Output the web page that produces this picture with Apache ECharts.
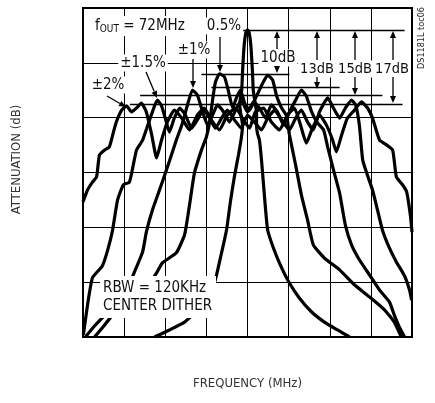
<!DOCTYPE html>
<html><head><meta charset="utf-8">
<script src="https://cdn.jsdelivr.net/npm/echarts@6/dist/echarts.min.js"></script>
<style>html,body{margin:0;padding:0;background:#fff}#c{width:435px;height:403px}</style>
</head><body><div id="c"></div>
<script>
const FONT = '"Liberation Sans Narrow","DejaVu Sans Condensed","Roboto Condensed",sans-serif';

// Frequency (MHz), attenuation (dB)
const noDither = [[69.74,-75],[70.10,-73.4],[70.47,-71.6],[70.71,-69.5],[70.95,-66.1],[71.20,-62.5],[71.34,-57.0],[71.49,-50.6],[71.59,-43.8],[71.68,-38.5],[71.78,-33.5],[71.85,-29.6],[71.88,-26.7],[71.83,-23.7],[71.81,-21.9],[71.86,-18.7],[71.88,-14.4],[71.92,-8.4],[71.96,-5.6],[72.00,-5.0],[72.04,-5.6],[72.08,-8.4],[72.12,-14.4],[72.14,-18.7],[72.19,-21.9],[72.22,-23.7],[72.22,-26.7],[72.24,-28.5],[72.29,-30.1],[72.34,-34.6],[72.39,-40.3],[72.44,-46.0],[72.49,-50.6],[72.63,-54.7],[72.80,-58.6],[73.02,-62.7],[73.26,-66.1],[73.56,-69.3],[73.87,-71.6],[74.19,-73.4],[74.48,-75]];
const dither05 = [[68.06,-75],[68.28,-72.5],[68.52,-70.2],[68.89,-67.7],[69.25,-65.4],[69.62,-62.7],[69.79,-60.4],[69.93,-58.1],[70.27,-55.8],[70.47,-51.7],[70.59,-44.9],[70.71,-37.6],[70.88,-32.4],[71.00,-29.4],[71.08,-26.0],[71.15,-21.0],[71.22,-16.9],[71.32,-15.0],[71.44,-15.7],[71.54,-19.1],[71.64,-22.8],[71.73,-20.5],[71.83,-18.7],[71.93,-21.7],[72.05,-23.3],[72.17,-21.0],[72.27,-19.1],[72.36,-17.3],[72.49,-15.3],[72.61,-16.4],[72.71,-20.1],[72.83,-22.8],[72.95,-24.6],[73.02,-28.9],[73.17,-35.8],[73.31,-42.6],[73.46,-48.3],[73.60,-54.0],[73.87,-57.0],[74.24,-59.7],[74.60,-63.1],[74.97,-65.9],[75.33,-68.8],[75.57,-71.6],[75.74,-75]];
const dither1 = [[68.28,-75],[68.52,-72.3],[68.77,-69.3],[69.01,-65.4],[69.25,-60.2],[69.45,-55.6],[69.54,-51.1],[69.69,-46.0],[69.86,-41.5],[70.03,-36.9],[70.15,-33.5],[70.27,-30.1],[70.42,-26.2],[70.54,-22.1],[70.66,-18.7],[70.78,-19.8],[70.91,-23.7],[71.03,-26.7],[71.15,-24.4],[71.27,-22.1],[71.42,-23.7],[71.56,-26.0],[71.71,-23.3],[71.85,-21.0],[72.00,-23.7],[72.15,-21.4],[72.29,-22.8],[72.44,-25.1],[72.58,-22.1],[72.73,-23.7],[72.88,-26.7],[73.02,-23.7],[73.17,-21.0],[73.31,-18.7],[73.43,-20.1],[73.56,-23.7],[73.70,-26.2],[73.85,-27.8],[73.95,-31.7],[74.09,-36.9],[74.24,-42.2],[74.38,-49.5],[74.53,-54.0],[74.72,-57.4],[74.97,-60.9],[75.21,-64.3],[75.45,-67.0],[75.57,-70.0],[75.70,-72.9],[75.82,-75]];
const dither15 = [[68.01,-74.5],[68.11,-67.7],[68.23,-61.5],[68.47,-58.8],[68.60,-55.2],[68.72,-50.6],[68.84,-43.8],[68.98,-40.3],[69.13,-39.7],[69.30,-32.4],[69.45,-30.1],[69.62,-25.5],[69.74,-22.3],[69.81,-21.0],[69.91,-22.3],[70.01,-25.5],[70.10,-28.3],[70.22,-25.1],[70.35,-22.8],[70.49,-24.4],[70.64,-27.4],[70.78,-25.5],[70.93,-23.3],[71.08,-25.1],[71.22,-27.4],[71.37,-25.1],[71.51,-23.3],[71.68,-25.5],[71.85,-27.4],[72.00,-24.4],[72.17,-26.0],[72.34,-27.8],[72.49,-25.1],[72.66,-23.3],[72.83,-25.5],[73.02,-27.8],[73.17,-25.1],[73.31,-23.3],[73.46,-26.0],[73.60,-27.8],[73.75,-23.7],[73.95,-20.5],[74.09,-22.8],[74.24,-25.1],[74.38,-22.8],[74.53,-21.0],[74.63,-22.1],[74.72,-26.7],[74.80,-34.6],[74.89,-37.4],[75.04,-41.5],[75.16,-46.0],[75.28,-50.6],[75.45,-54.7],[75.62,-57.9],[75.82,-61.1],[75.94,-64.3],[75.99,-66.6]];
const dither2 = [[68.00,-44.2],[68.11,-41.5],[68.23,-39.7],[68.33,-38.5],[68.40,-33.5],[68.52,-32.4],[68.64,-31.7],[68.74,-28.3],[68.81,-26.0],[68.94,-23.3],[69.06,-22.3],[69.18,-23.7],[69.30,-22.8],[69.42,-21.7],[69.54,-23.7],[69.67,-28.9],[69.79,-34.2],[69.91,-30.1],[70.05,-26.0],[70.22,-23.3],[70.40,-25.1],[70.59,-27.8],[70.78,-24.4],[70.95,-22.8],[71.12,-25.5],[71.32,-27.8],[71.51,-24.4],[71.71,-22.8],[71.90,-25.5],[72.05,-27.4],[72.19,-23.7],[72.39,-22.8],[72.58,-26.0],[72.78,-27.8],[72.97,-24.4],[73.14,-22.8],[73.29,-26.7],[73.43,-30.8],[73.58,-27.4],[73.75,-24.4],[73.92,-26.7],[74.07,-30.1],[74.16,-32.8],[74.29,-28.9],[74.43,-25.1],[74.60,-23.3],[74.77,-21.4],[74.92,-22.8],[75.04,-25.1],[75.21,-30.1],[75.38,-31.2],[75.53,-32.4],[75.62,-38.5],[75.77,-40.3],[75.87,-41.9],[75.96,-47.2],[76.00,-51.1]];

const curveNames = ['NO DITHER','0.5%','±1%','±1.5%','±2%'];
const curves = [noDither, dither05, dither1, dither15, dither2];

// Reference levels (dB) and their horizontal extents (MHz)
const refLevels = [-5, -15, -18, -20, -22];
const refStart  = [71.81, 70.88, 71.12, 69.39, 69.14];
const refEnd    = [75.82, 73.02, 74.24, 75.28, 75.77];
const refLabels = ['', '10dB', '13dB', '15dB', '17dB'];

const xTitle = 'FREQUENCY (MHz)';
const yTitle = 'ATTENUATION (dB)';

const chart = echarts.init(document.getElementById('c'), null, {renderer:'canvas'});

function arrow(x1,y1,x2,y2){
  const a = Math.atan2(y2-y1, x2-x1), L = 7, W = 3;
  const bx = x2 - L*Math.cos(a), by = y2 - L*Math.sin(a);
  return [
    {type:'line', z:110, silent:true, shape:{x1:x1,y1:y1,x2:bx,y2:by}, style:{stroke:'#000', lineWidth:1.3}},
    {type:'polygon', z:110, silent:true, shape:{points:[[x2,y2],[bx+W*Math.sin(a),by-W*Math.cos(a)],[bx-W*Math.sin(a),by+W*Math.cos(a)]]}, style:{fill:'#000'}}
  ];
}
function label(text, x, y, align, size){
  return {type:'text', z:105, silent:true, style:{text:text, x:x, y:y, align:align||'center', verticalAlign:'middle',
    font:(size||15)+'px '+FONT, fill:'#111', backgroundColor:'#fff', padding:[1,2]}};
}

const series = curves.map((d,i)=>({
  name: curveNames[i], type:'line', data:d, showSymbol:false, smooth:0.15, silent:true,
  lineStyle:{color:'#000', width:3.2}, z:3, clip:true
}));
series.push({
  name:'ref', type:'line', data:[], silent:true,
  markLine:{silent:true, symbol:['none','none'], label:{show:false},
    lineStyle:{color:'#000', width:1.3, type:'solid'},
    data: refLevels.map((v,i)=>[{coord:[refStart[i], v]},{coord:[refEnd[i], v]}])}
});

let g = [];
g.push({type:'text', z:105, silent:true, style:{text:'f{s|OUT} = 72MHz', x:92, y:26, align:'left', verticalAlign:'middle',
  font:'15px '+FONT, fill:'#111', backgroundColor:'#fff', padding:[2,3],
  rich:{s:{font:'10px '+FONT, fill:'#111', verticalAlign:'bottom', padding:[6,0,0,0]}}}});
g.push(label('0.5%', 224, 26));
g.push(label('±1%', 194, 50));
g.push(label('±1.5%', 143, 63));
g.push(label('±2%', 108, 85));
g.push(label(refLabels[1], 278, 58));
g.push(label(refLabels[2], 317, 69, 'center', 14.5));
g.push(label(refLabels[3], 355, 69, 'center', 14.5));
g.push(label(refLabels[4], 392, 69, 'center', 14.5));
g = g.concat(arrow(220,37,220,72), arrow(193,59,193,88), arrow(146,72,157,98), arrow(107,96,126,107));
g = g.concat(arrow(277,49,277,31), arrow(277,66,277,73));
g = g.concat(arrow(317,60,317,31), arrow(317,77,317,89));
g = g.concat(arrow(355,60,355,31), arrow(355,77,355,95));
g = g.concat(arrow(393,60,393,31), arrow(393,77,393,103));
g.push({type:'rect', z:104, silent:true, shape:{x:100,y:276,width:116,height:42}, style:{fill:'#fff'}});
g.push({type:'text', z:105, silent:true, style:{text:'RBW = 120KHz\nCENTER DITHER', x:103, y:297, align:'left', verticalAlign:'middle',
  font:'15px '+FONT, fill:'#111', lineHeight:18}});
g.push({type:'text', z:105, silent:true, x:422, y:38, rotation:Math.PI/2,
  style:{text:'DS1181L toc06', x:0, y:0, align:'center', verticalAlign:'middle', font:'9px '+FONT, fill:'#222'}});

chart.setOption({
  animation:false,
  backgroundColor:'#fff',
  grid:{left:83, top:8, width:329, height:329, show:true, borderColor:'#000', borderWidth:2, backgroundColor:'transparent', z:5},
  xAxis:{type:'value', min:68, max:76, interval:1, name:xTitle, nameLocation:'middle', nameGap:40,
    nameTextStyle:{fontFamily:FONT, fontSize:13, color:'#333'},
    axisLine:{show:false}, axisTick:{show:false}, axisLabel:{show:false},
    splitLine:{show:true, lineStyle:{color:'#000', width:1}}},
  yAxis:{type:'value', min:-75, max:0, interval:12.5, name:yTitle, nameLocation:'middle', nameGap:60,
    nameTextStyle:{fontFamily:FONT, fontSize:13, color:'#333', padding:[0,0,0,26]},
    axisLine:{show:false}, axisTick:{show:false}, axisLabel:{show:false},
    splitLine:{show:true, lineStyle:{color:'#000', width:1}}},
  series:series,
  graphic:g
});
</script></body></html>
